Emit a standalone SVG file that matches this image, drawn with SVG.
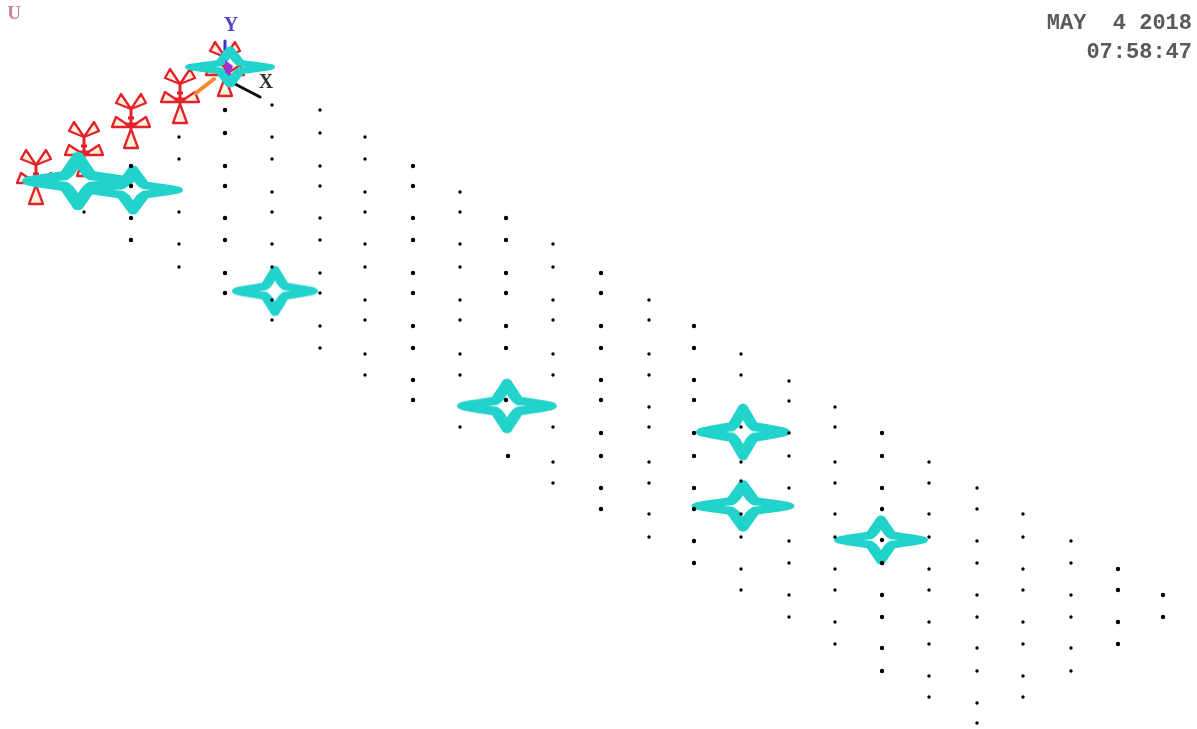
<svg xmlns="http://www.w3.org/2000/svg" width="1197" height="729" viewBox="0 0 1197 729">
<style>
.bg{fill:#fff}
.ax{font-family:"Liberation Serif",serif;font-weight:bold;stroke-width:.4}
.stamp{font-family:"Liberation Mono",monospace;font-weight:bold;font-size:22px;fill:#5a5a5a;text-anchor:end;white-space:pre}
.pet{fill:#fff2dc;stroke:#e4222c;stroke-width:2.3;stroke-linejoin:round}
.star{fill:#22d3cb;fill-rule:evenodd}
.dots{fill:none;stroke:#000;stroke-linecap:round}
</style>
<defs>
<filter id="soft" x="-5%" y="-5%" width="110%" height="110%"><feGaussianBlur stdDeviation="0.5"/></filter>
<path id="st" d="M-50,0Q-50,-3 -44,-4.5C-36,-6.5 -26,-7.5 -15,-9.5L-4,-27Q0,-30 4,-27L15,-9.5C26,-7.5 36,-6.5 44,-4.5Q50,-3 50,0Q50,3 44,4.5C36,6.5 26,7.5 15,9.5L4,27Q0,30 -4,27L-15,9.5C-26,7.5 -36,6.5 -44,4.5Q-50,3 -50,0ZM-19,0L-10,-.8Q-4,-4 0,-12Q4,-4 10,-.8L19,0L10,.8Q4,4 0,12Q-4,4 -10,.8Z"/>
<g id="sup" class="pet">
<path d="M0,0L-15,-6L-10,-15ZM0,0L15,-6L10,-15Z"/>
<path d="M0,18L-19,18L-15,8ZM0,18L19,18L15,8Z"/>
<path d="M0,20L-7,39L7,39Z"/>
<path d="M0,0V20M-6,15H6M-3,9H3" fill="none" stroke-width="3"/>
</g>
</defs>
<rect class="bg" width="1197" height="729"/>
<g filter="url(#soft)">
<g id="supports">
<use href="#sup" x="36" y="165"/>
<use href="#sup" x="84" y="137"/>
<use href="#sup" x="131" y="109"/>
<use href="#sup" x="180" y="84"/>
<use href="#sup" x="225" y="57"/>
</g>
<g id="triad-lines" fill="none" stroke-linecap="round">
<path d="M196,93L214,79" stroke="#f58a30" stroke-width="4"/>
<path d="M235,84L260,97" stroke="#111" stroke-width="3"/>
<path d="M225,41V53" stroke="#3a30d0" stroke-width="3"/>
</g>
<g id="loads" class="star">
<use href="#st" transform="translate(230,67) scale(.9,.72)"/>
<use href="#st" transform="translate(78,181) scale(1.12,1.03)"/>
<use href="#st" transform="translate(133,190) scale(1,.86)"/>
<use href="#st" transform="translate(275,291) scale(.86,.88)"/>
<use href="#st" transform="translate(507,406) scale(1,.96)"/>
<use href="#st" transform="translate(743,432) scale(.94,1)"/>
<use href="#st" transform="translate(743,506) scale(1.03,.9)"/>
<use href="#st" transform="translate(881,540) scale(.94,.86)"/>
</g>
<path id="triad-mark" d="M225,60L233,66L229,76L225,72Z" fill="#9a30d8"/>
<path class="dots" stroke-width="3.4" d="M84 212h0M179 137h0M179 159h0M179 212h0M179 244h0M179 267h0M272 105h0M272 137h0M272 159h0M272 192h0M272 212h0M272 244h0M272 267h0M272 300h0M272 320h0M320 110h0M320 133h0M320 166h0M320 186h0M320 218h0M320 240h0M320 273h0M320 293h0M320 326h0M320 348h0M365 137h0M365 159h0M365 192h0M365 212h0M365 244h0M365 267h0M365 300h0M365 320h0M365 354h0M365 375h0M460 192h0M460 212h0M460 244h0M460 267h0M460 300h0M460 320h0M460 354h0M460 375h0M460 427h0M553 244h0M553 267h0M553 300h0M553 320h0M553 354h0M553 375h0M553 427h0M553 462h0M553 483h0M649 300h0M649 320h0M649 354h0M649 375h0M649 407h0M649 427h0M649 462h0M649 483h0M649 514h0M649 537h0M741 354h0M741 375h0M741 427h0M741 462h0M741 481h0M741 514h0M741 537h0M741 569h0M741 590h0M789 381h0M789 401h0M789 433h0M789 456h0M789 488h0M789 541h0M789 563h0M789 595h0M789 617h0M835 407h0M835 427h0M835 462h0M835 483h0M835 514h0M835 537h0M835 569h0M835 590h0M835 622h0M835 644h0M929 462h0M929 483h0M929 514h0M929 537h0M929 569h0M929 590h0M929 622h0M929 644h0M929 676h0M929 697h0M977 488h0M977 509h0M977 541h0M977 563h0M977 595h0M977 617h0M977 648h0M977 671h0M977 703h0M977 723h0M1023 514h0M1023 537h0M1023 569h0M1023 590h0M1023 622h0M1023 644h0M1023 676h0M1023 697h0M1071 541h0M1071 563h0M1071 595h0M1071 617h0M1071 648h0M1071 671h0"/>
<path class="dots" stroke-width="4.4" d="M131 166h0M131 186h0M131 218h0M131 240h0M225 110h0M225 133h0M225 166h0M225 186h0M225 218h0M225 240h0M225 273h0M225 293h0M413 166h0M413 186h0M413 218h0M413 240h0M413 273h0M413 293h0M413 326h0M413 348h0M413 380h0M413 400h0M506 218h0M506 240h0M506 273h0M506 293h0M506 326h0M506 348h0M506 400h0M508 456h0M601 273h0M601 293h0M601 326h0M601 348h0M601 380h0M601 400h0M601 433h0M601 456h0M601 488h0M601 509h0M694 326h0M694 348h0M694 380h0M694 400h0M694 433h0M694 456h0M694 488h0M694 509h0M694 541h0M694 563h0M882 433h0M882 456h0M882 488h0M882 509h0M882 540h0M882 563h0M882 595h0M882 617h0M882 648h0M882 671h0M1118 569h0M1118 590h0M1118 622h0M1118 644h0M1163 595h0M1163 617h0"/>
<g id="labels">
<text class="ax" x="14" y="19" font-size="19" text-anchor="middle" fill="#cc80a0">U</text>
<text class="ax" x="231" y="31" font-size="20" text-anchor="middle" fill="#5a40c8">Y</text>
<text class="ax" x="266" y="88" font-size="20" text-anchor="middle" fill="#333">X</text>
<text class="stamp" x="1192" y="29">MAY  4 2018</text>
<text class="stamp" x="1192" y="58">07:58:47</text>
</g>
</g>
</svg>
